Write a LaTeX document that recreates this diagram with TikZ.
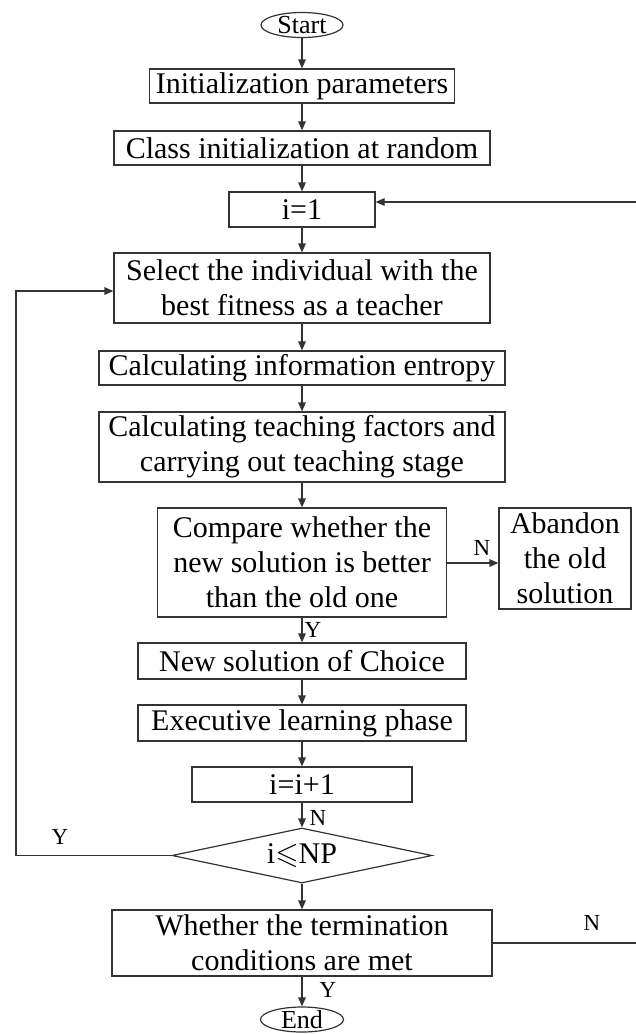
\documentclass[tikz,border=0pt]{standalone}
\usepackage{fontspec}
\usepackage{amssymb}
\setmainfont{Liberation Serif}
\usetikzlibrary{shapes.geometric,arrows.meta}
\begin{document}
\begin{tikzpicture}[x=0.5pt,y=-0.5pt,
  every node/.style={font=\fontsize{15}{17.5}\selectfont},
  box/.style={draw=black!80,line width=0.6pt,inner sep=0pt,align=center},
  term/.style={draw=black!80,line width=0.6pt,ellipse,inner xsep=-2pt,inner ysep=-2pt,font=\fontsize{13}{15}\selectfont},
  dec/.style={draw=black!80,line width=0.6pt,diamond,aspect=4.7,inner sep=0pt},
  lbl/.style={font=\fontsize{11.5}{13}\selectfont,inner sep=0pt},
  arr/.style={draw=black!80,line width=0.6pt,-{Triangle[length=4.5pt,width=3.8pt]}},
  ln/.style={draw=black!80,line width=0.6pt}]
\useasboundingbox (0,0) rectangle (636,1034);

\node[term,minimum width=41pt,minimum height=12.5pt] (start) at (302,25) {Start};
\node[box,minimum width=152.5pt,minimum height=17pt] (init) at (302,86) {Initialization parameters};
\node[box,minimum width=188pt,minimum height=17pt] (cls) at (302,148) {Class initialization at random};
\node[box,minimum width=73pt,minimum height=17.5pt] (i1) at (302,209.5) {i=1};
\node[box,minimum width=188pt,minimum height=35pt] (sel) at (302,288) {Select the individual with the\\best fitness as a teacher};
\node[box,minimum width=203pt,minimum height=17pt] (ent) at (302,368) {Calculating information entropy};
\node[box,minimum width=203pt,minimum height=35pt] (teach) at (302,447) {Calculating teaching factors and\\carrying out teaching stage};
\node[box,minimum width=144.5pt,minimum height=54.5pt] (cmp) at (302,562.5) {Compare whether the\\new solution is better\\than the old one};
\node[box,minimum width=66pt,minimum height=50.5pt] (ab) at (565,558.5) {Abandon\\the old\\solution};
\node[box,minimum width=164pt,minimum height=18pt] (new) at (302,661) {New solution of Choice};
\node[box,minimum width=164pt,minimum height=18pt] (exe) at (302,723) {Executive learning phase};
\node[box,minimum width=110pt,minimum height=17.5pt] (inc) at (302,784.5) {i=i+1};
\node[dec,minimum width=130pt,minimum height=27.5pt] (dia) at (302,855.5) {i$\leqslant$NP};
\node[box,minimum width=190pt,minimum height=33pt] (tc) at (302,943) {Whether the termination\\conditions are met};
\node[term,minimum width=41.5pt,minimum height=12.5pt] (end) at (302,1019.5) {End};

\coordinate (lt) at (16,855.5);
\coordinate (lb) at (16,291);
\coordinate (rt) at (637,943);
\coordinate (rb) at (637,202);

\draw[arr] (start) -- (init);
\draw[arr] (init) -- (cls);
\draw[arr] (cls) -- (i1);
\draw[arr] (i1) -- (sel);
\draw[arr] (sel) -- (ent);
\draw[arr] (ent) -- (teach);
\draw[arr] (teach) -- (cmp);
\draw[arr] (cmp.east |- 0,563) -- (ab.west |- 0,563);
\draw[arr] (cmp) -- (new);
\draw[arr] (new) -- (exe);
\draw[arr] (exe) -- (inc);
\draw[arr] (inc) -- (dia);
\draw[arr] (dia) -- (tc);
\draw[arr] (tc) -- (end);
\draw[arr] (dia.west) -- (lt) -- (lb) -- (sel.west |- lb);
\draw[arr] (tc.east) -- (rt) -- (rb) -- (i1.east |- rb);

\node[lbl] (lN1) at (482,548) {N};
\node[lbl] (lY1) at (313,630) {Y};
\node[lbl] (lN2) at (318,818) {N};
\node[lbl] (lY2) at (60,837) {Y};
\node[lbl] (lY3) at (328,990) {Y};
\node[lbl] (lN3) at (592,923) {N};
\end{tikzpicture}
\end{document}
